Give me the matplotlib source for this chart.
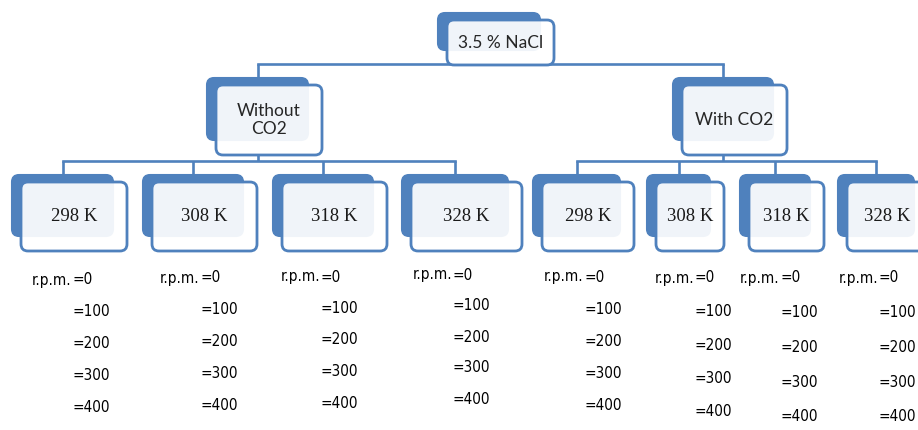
import matplotlib
matplotlib.use('Agg')
import matplotlib.pyplot as plt
from matplotlib.patches import FancyBboxPatch

# hierarchy content
root_label = '3.5 % NaCl'
branch_labels = ['Without\nCO2', 'With CO2']
temp_labels = ['298 K', '308 K', '318 K', '328 K']
rpm_values = [0, 100, 200, 300, 400]

# layout in pixels (x right, y down)
blue = '#4F81BD'
root_box = (438, 13, 102, 37)            # back shape: left, top, width, height
branch_boxes = [(207, 78, 101, 62), (673, 78, 100, 62)]
leaf_left = [12, 143, 273, 402, 533, 647, 740, 838]
leaf_width = [101, 100, 100, 106, 87, 63, 70, 76]
leaf_top, leaf_h = 175, 61
rpm_eq_x = [72, 200, 321, 453, 584, 695, 780, 879]
rpm_y0 = [280, 278, 277, 275, 277, 278, 278, 278]
rpm_dy = [32, 32, 31.5, 31, 32, 33.5, 34.7, 34.7]

fig = plt.figure(figsize=(9.18, 4.30), dpi=100)
ax = fig.add_axes([0, 0, 1, 1])
ax.set_xlim(0, 918)
ax.set_ylim(430, 0)
ax.axis('off')


def node(box, label, **txt):
    x, y, w, h = box
    back = FancyBboxPatch((x, y), w, h, boxstyle='round,pad=0,rounding_size=7',
                          fc=blue, ec=blue, lw=1.5, zorder=2)
    front = FancyBboxPatch((x + 9, y + 7), w + 5, h + 8, boxstyle='round,pad=0,rounding_size=7',
                           fc=(1, 1, 1, 0.92), ec=blue, lw=2.0, zorder=3)
    ax.add_patch(back)
    ax.add_patch(front)
    ax.text(x + 9 + (w + 5) / 2, y + 7 + (h + 8) / 2, label, ha='center', va='center',
            zorder=4, **txt)
    return x + w / 2, y, y + 7 + h + 8


def connect(px, py, children_x, cy):
    mid = cy - 14
    ax.plot([px, px], [py, mid], color=blue, lw=1.9, zorder=1, solid_capstyle='butt')
    ax.plot([min(children_x), max(children_x)], [mid, mid], color=blue, lw=1.9, zorder=1)
    for cx in children_x:
        ax.plot([cx, cx], [mid, cy], color=blue, lw=1.9, zorder=1, solid_capstyle='butt')


sans = dict(family=['Lato', 'DejaVu Sans'], fontsize=12.5, color='#262626')
serif = dict(family=['Liberation Serif', 'DejaVu Serif'], fontsize=13.5, color='#1a1a1a')
narrow = dict(family=['DejaVu Sans'], fontstretch='condensed', fontsize=11, color='#000000')

rx, rtop, rbot = node(root_box, root_label, **sans)
bx = []
for box, lab in zip(branch_boxes, branch_labels):
    cx, top, bot = node(box, lab, **sans)
    bx.append((cx, bot))
connect(rx, rbot, [b[0] for b in bx], branch_boxes[0][1])

leaf_x = []
for i in range(8):
    cx, top, bot = node((leaf_left[i], leaf_top, leaf_width[i], leaf_h), temp_labels[i % 4], **serif)
    leaf_x.append(cx)
    ex, y0, dy = rpm_eq_x[i], rpm_y0[i], rpm_dy[i]
    ax.text(ex - 1, y0, 'r.p.m.', ha='right', va='center', **narrow)
    for k, v in enumerate(rpm_values):
        ax.text(ex, y0 + k * dy, '=%d' % v, ha='left', va='center', **narrow)

connect(bx[0][0], bx[0][1], leaf_x[:4], leaf_top)
connect(bx[1][0], bx[1][1], leaf_x[4:], leaf_top)

fig.savefig('out.png', dpi=100)
